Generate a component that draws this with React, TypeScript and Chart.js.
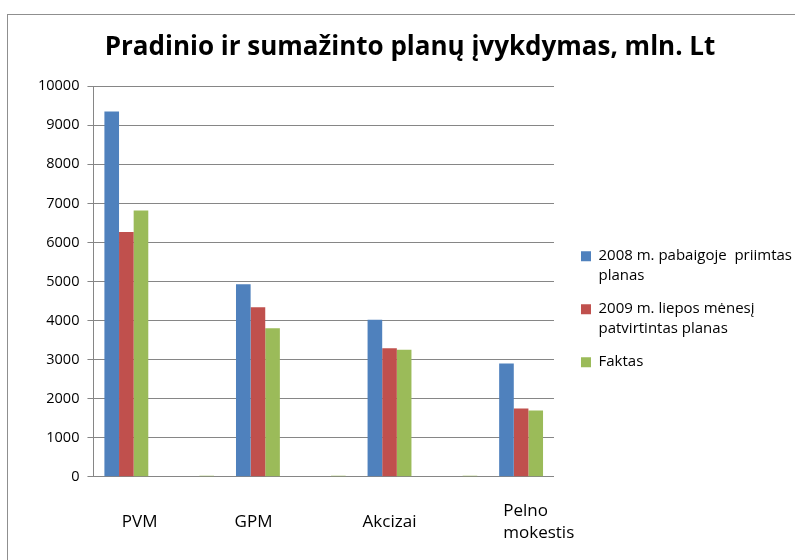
import React, { useEffect, useRef } from "react";
import { Chart, registerables } from "chart.js";

Chart.register(...registerables);

// ---- data ----
const categories: (string | string[])[] = ["PVM", "", "GPM", "", "Akcizai", "", ["Pelno", "mokestis"]];
const seriesNames: (string | string[])[] = [
  ["2008 m. pabaigoje  priimtas", "planas"],
  ["2009 m. liepos mėnesį", "patvirtintas planas"],
  "Faktas",
];
const plan2008 = [9350, null, 4930, null, 4020, null, 2900];
const plan2009 = [6270, null, 4340, null, 3290, null, 1750];
const faktas = [6820, 30, 3800, 30, 3250, 30, 1700];
const yMin = 0;
const yMax = 10000;
const yStep = 1000;
const titleText = "Pradinio ir sumažinto planų įvykdymas, mln. Lt";

// ---- styling helpers (label placement only) ----
const FONT = "'Open Sans', 'DejaVu Sans', sans-serif";
const leadSpaces = [6, 0, 0, 0, 0, 0, 8];
const trailSpaces = [0, 0, 2, 0, 0, 0, 0];
const lineTrail: Record<string, number> = { Pelno: 6 };

function formatTick(i: number): string | string[] {
  const lab = categories[i];
  const lead = " ".repeat(leadSpaces[i] || 0);
  const trail = " ".repeat(trailSpaces[i] || 0);
  if (Array.isArray(lab)) {
    return lab.map((l) => lead + l + " ".repeat(lineTrail[l] || 0) + trail);
  }
  if (!lab) return "";
  return lead + lab + trail;
}

export default function App() {
  const ref = useRef<HTMLCanvasElement>(null);

  useEffect(() => {
    if (!ref.current) return;
    const chart = new Chart(ref.current, {
      type: "bar",
      data: {
        labels: categories as any,
        datasets: [
          { label: seriesNames[0] as any, data: plan2008 as any, backgroundColor: "#4F81BD" },
          { label: seriesNames[1] as any, data: plan2009 as any, backgroundColor: "#C0504D" },
          { label: seriesNames[2] as any, data: faktas as any, backgroundColor: "#9BBB59" },
        ],
      },
      options: {
        responsive: false,
        animation: false,
        devicePixelRatio: 1,
        layout: { padding: { left: 18, right: 0, top: 0, bottom: 0 } },
        datasets: { bar: { barPercentage: 1, categoryPercentage: 0.667 } } as any,
        scales: {
          x: {
            grid: { display: false, drawTicks: false },
            border: { display: true, color: "#868686" },
            ticks: {
              autoSkip: false,
              maxRotation: 0,
              minRotation: 0,
              padding: 34,
              crossAlign: "center",
              color: "#000",
              font: { family: FONT, size: 17, lineHeight: 1.3 },
              callback: (_v: any, i: number) => formatTick(i),
            },
          },
          y: {
            min: yMin,
            max: yMax,
            ticks: {
              stepSize: yStep,
              padding: 8,
              color: "#000",
              font: { family: FONT, size: 14.5 },
              callback: (v: any) => String(v),
            },
            grid: { color: "#868686", tickLength: 6 },
            border: { color: "#868686" },
            afterFit: (s: any) => {
              s.width = s.width + 12;
            },
          },
          gap: {
            type: "linear",
            position: "right",
            display: true,
            grid: { display: false, drawTicks: false },
            border: { display: false },
            ticks: { display: false },
            afterFit: (s: any) => {
              s.width = 14;
            },
          },
        },
        plugins: {
          title: {
            display: true,
            text: titleText,
            color: "#000",
            font: { family: FONT, size: 26, weight: "bold" },
            padding: { top: 32, bottom: 23 },
          },
          legend: {
            position: "right",
            fullSize: false,
            maxWidth: 300,
            labels: {
              boxWidth: 10,
              boxHeight: 10,
              padding: 13,
              color: "#000",
              font: { family: FONT, size: 15, lineHeight: 20 / 15 },
            },
            title: { display: true, text: "", padding: { top: 41, bottom: 0 }, font: { size: 12 } },
          },
          tooltip: { enabled: false },
        },
      } as any,
    });
    return () => chart.destroy();
  }, []);

  return (
    <>
      <div
        style={{
          position: "fixed",
          left: 7,
          top: 14,
          width: 1000,
          height: 1000,
          borderTop: "1px solid #8f8f8f",
          borderLeft: "1px solid #8f8f8f",
          zIndex: 0,
        }}
      />
      <canvas
        ref={ref}
        width={802}
        height={589}
        style={{ position: "fixed", left: 0, top: 0, width: 802, height: 589, zIndex: 1 }}
      />
    </>
  );
}
